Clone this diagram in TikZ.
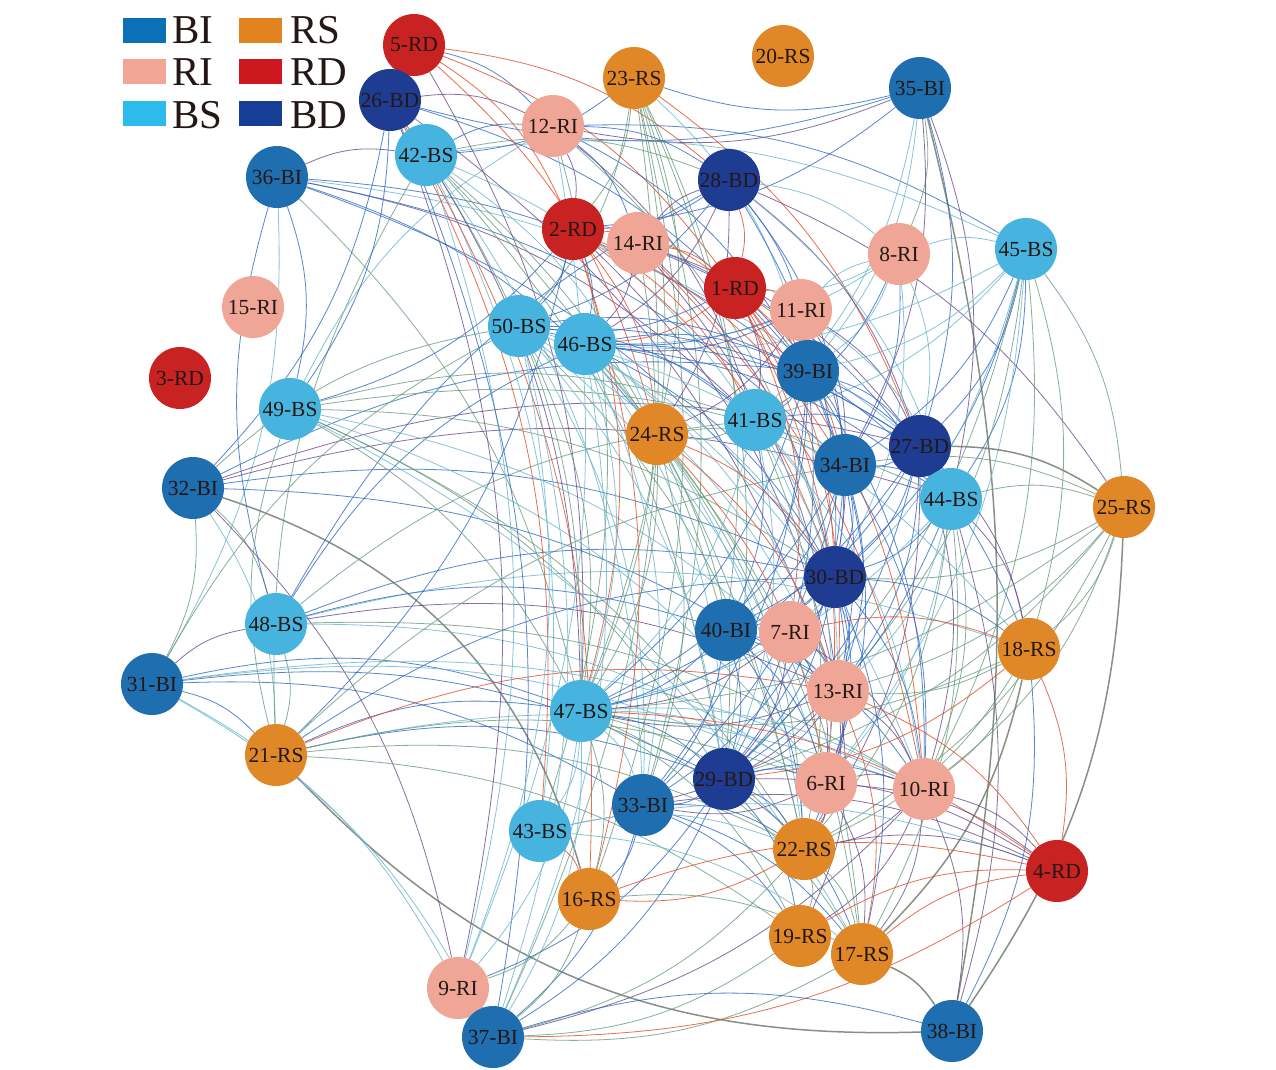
\documentclass[tikz,border=0pt]{standalone}
\usepackage{fontspec}
\setmainfont{Liberation Serif}
\pgfdeclarelayer{background}
\pgfdeclarelayer{paper}
\pgfsetlayers{paper,background,main}
\definecolor{cBI}{RGB}{31,110,176}
\definecolor{cRS}{RGB}{224,136,40}
\definecolor{cRI}{RGB}{240,166,150}
\definecolor{cRD}{RGB}{200,34,34}
\definecolor{cBS}{RGB}{70,180,222}
\definecolor{cBD}{RGB}{30,60,145}
\definecolor{lBI}{RGB}{12,112,182}
\definecolor{lRS}{RGB}{225,132,32}
\definecolor{lRI}{RGB}{242,166,150}
\definecolor{lRD}{RGB}{205,24,32}
\definecolor{lBS}{RGB}{45,187,235}
\definecolor{lBD}{RGB}{22,62,150}
\definecolor{eB}{RGB}{45,105,195}
\definecolor{eT}{RGB}{115,185,210}
\definecolor{eG}{RGB}{105,155,125}
\definecolor{eP}{RGB}{105,75,140}
\definecolor{eR}{RGB}{228,85,50}
\definecolor{eK}{RGB}{115,125,112}
\definecolor{txt}{RGB}{35,24,21}
\tikzset{
  nd/.style={circle, minimum size=62pt, inner sep=0pt, text=txt, font=\fontsize{21.5}{21.5}\selectfont},
  nBI/.style={nd, fill=cBI}, nRS/.style={nd, fill=cRS}, nRI/.style={nd, fill=cRI},
  nRD/.style={nd, fill=cRD}, nBS/.style={nd, fill=cBS}, nBD/.style={nd, fill=cBD},
  lnB/.style={draw=eB, line width=0.8pt, opacity=0.8},
  lnT/.style={draw=eT, line width=0.8pt, opacity=0.85},
  lnG/.style={draw=eG, line width=0.8pt, opacity=0.8},
  lnP/.style={draw=eP, line width=0.8pt, opacity=0.8},
  lnR/.style={draw=eR, line width=0.8pt, opacity=0.85},
  lnK/.style={draw=eK, line width=1.5pt, opacity=0.85},
  swatch/.style={inner sep=0pt, minimum width=43pt, minimum height=25pt},
  legtxt/.style={anchor=base west, inner sep=0pt, text=txt, font=\fontsize{41}{41}\selectfont}
}
\begin{document}
\begin{tikzpicture}[x=1pt, y=-1pt]
\useasboundingbox (0,0) rectangle (1276,1069);
\begin{pgfonlayer}{paper}
\fill[white] (0,0) rectangle (1276,1069);
\end{pgfonlayer}
% legend
\node[swatch, fill=lBI] (sBI) at (144.5,30) {};
\node[legtxt] (tBI) at (172,43) {BI};
\node[swatch, fill=lRS] (sRS) at (260,30) {};
\node[legtxt] (tRS) at (290,43) {RS};
\node[swatch, fill=lRI] (sRI) at (144.5,71) {};
\node[legtxt] (tRI) at (172,85) {RI};
\node[swatch, fill=lRD] (sRD) at (260,71) {};
\node[legtxt] (tRD) at (290,85) {RD};
\node[swatch, fill=lBS] (sBS) at (144.5,113) {};
\node[legtxt] (tBS) at (172,128) {BS};
\node[swatch, fill=lBD] (sBD) at (260,113) {};
\node[legtxt] (tBD) at (290,128) {BD};
% nodes
\foreach \i/\x/\y/\t in {1/735/288/RD, 2/573/229/RD, 3/180/378/RD, 4/1057/871/RD, 5/414/45/RD,
  6/826/783/RI, 7/790/632/RI, 8/899/254/RI, 10/924/789/RI, 11/801/310/RI,
  12/553/126/RI, 13/838/691/RI, 14/638/243/RI, 15/253/307/RI, 16/589/899/RS, 19/800/936/RS,
  17/862/954/RS, 18/1029/649/RS, 20/783/56/RS, 21/276/755/RS, 22/804/849/RS, 23/634/78/RS,
  24/657/434/RS, 25/1124/507/RS, 26/390/100/BD, 27/920/446/BD, 28/729/180/BD, 29/724/779/BD,
  30/835/577/BD, 31/152/684/BI, 32/193/488/BI, 33/643/805/BI, 34/845/465/BI, 35/920/88/BI,
  36/277/177/BI, 9/458/988/RI, 37/493/1037/BI, 38/952/1031/BI, 39/808/371/BI, 40/726/630/BI,
  41/755/420/BS, 42/426/155/BS, 43/540/831/BS, 44/951/499/BS, 45/1026/249/BS, 46/585/344/BS,
  47/581/711/BS, 48/276/624/BS, 49/290/409/BS, 50/519/326/BS}
  \node[n\t] (n\i) at (\x,\y) {\i-\t};
% edges
\begin{pgfonlayer}{background}
\draw[lnK] (n21) to[bend right=24] (n38);
\draw[lnK] (n32) to[bend left=28] (n16);
\draw[lnK] (n35) to[bend left=12] (n38);
\foreach \a/\b/\s in {
 36/42/P, 36/49/B, 36/30/B, 36/39/B, 36/41/P, 36/47/G, 36/24/B, 36/27/T, 36/34/B, 36/31/T,
 32/31/G, 32/48/G, 32/30/B, 32/27/P, 32/44/P, 32/13/B, 32/21/T, 32/50/G, 32/9/P, 32/39/B,
 31/48/P, 31/21/B, 31/47/B, 31/29/B, 31/6/T, 31/37/T, 31/50/G, 31/10/T, 31/33/B, 31/9/T,
 48/30/B, 48/13/P, 48/18/T, 48/40/B, 48/41/G, 48/46/B, 48/21/G, 48/6/T, 48/10/G, 48/36/B, 48/28/B,
 21/47/B, 21/29/B, 21/13/R, 21/10/T, 21/22/G, 21/6/G, 21/49/G, 21/34/G, 21/30/B, 21/19/G, 21/42/G,
 49/30/G, 49/13/T, 49/6/T, 49/29/G, 49/41/G, 49/47/G, 49/44/G, 49/17/T, 49/22/G, 49/12/T,
 42/45/T, 42/12/B, 42/28/G, 42/47/G, 42/33/T, 42/9/T, 42/40/G, 42/41/T, 42/29/G, 42/24/T, 42/22/G, 42/43/T,
 26/12/P, 26/9/P, 26/16/R, 26/43/R, 26/39/B, 35/26/B, 26/47/P, 26/37/B, 26/13/P, 26/49/B, 26/32/B,
 5/28/R, 5/12/B, 5/2/R, 5/47/P, 5/1/R, 5/24/R,
 35/12/P, 12/28/B, 12/45/B, 12/2/P, 12/41/P, 12/39/B, 12/9/T, 12/43/G, 12/30/G, 12/14/B,
 23/27/R, 23/2/G, 23/50/G, 23/47/G, 23/39/T, 23/42/B, 35/23/B, 23/33/G, 23/40/G, 23/16/G, 23/29/G, 23/37/G, 23/24/G,
 35/8/G, 35/34/P, 35/39/T, 35/27/B, 35/2/B, 35/44/P, 35/41/T,
 28/2/B, 28/50/B, 28/39/B, 28/27/P, 28/1/R, 28/44/T, 28/30/B, 28/46/P, 28/24/P, 28/34/B, 28/8/T, 28/25/P,
 2/14/R, 2/1/R, 2/30/R, 2/47/R, 2/41/R, 2/24/R, 2/46/B, 2/34/R, 2/13/P, 2/16/R, 2/21/B, 2/49/B, 2/50/B,
 14/1/R, 14/28/P, 14/39/P, 14/30/P, 14/13/P, 14/47/G, 14/46/P, 14/44/B, 14/27/P, 14/10/R,
 8/45/T, 8/39/T, 8/34/B, 8/27/T, 8/30/T, 8/46/T, 8/41/B, 8/1/T,
 45/30/B, 45/34/B, 45/27/B, 45/44/B, 45/18/G, 45/25/G, 45/41/T, 45/13/G, 45/6/T, 45/10/G, 45/39/T, 45/46/T, 45/29/G, 45/7/T,
 1/39/R, 1/30/R, 1/34/R, 1/6/R, 1/13/R, 1/41/P, 1/50/B, 1/46/R, 1/10/R, 1/11/R, 1/7/R,
 11/39/P, 11/34/P, 11/27/P, 11/30/P, 11/50/B, 11/46/P, 11/8/T, 11/44/T, 11/24/P,
 50/47/G, 50/39/B, 50/29/T, 50/30/T, 50/13/T, 50/6/T, 50/9/T, 50/37/T, 50/41/B, 50/22/G, 50/33/T, 50/18/T, 50/27/B,
 46/39/B, 46/41/B, 46/30/B, 46/27/B, 46/47/T, 46/29/T, 46/33/T, 46/13/T, 46/10/T, 46/22/T, 46/37/T, 46/17/G, 46/44/B,
 39/27/B, 39/34/B, 39/30/B, 39/44/B, 39/41/B, 39/13/B, 39/29/B, 39/47/B, 39/18/B, 39/10/B, 39/33/B, 39/40/B,
 41/30/T, 41/34/T, 41/27/B, 41/29/T, 41/47/T, 41/13/T, 41/6/T, 41/10/T, 41/40/B, 41/22/G, 41/24/G,
 24/30/R, 24/13/R, 24/29/G, 24/47/G, 24/22/G, 24/6/R, 24/34/G, 24/17/G, 24/33/G,
 27/25/K, 27/30/B, 27/44/B, 27/34/B, 27/29/B, 27/47/B, 27/13/B, 27/18/P, 27/40/B, 27/10/P, 27/22/P,
 34/30/B, 34/44/B, 34/29/B, 34/47/B, 34/13/B, 34/40/B, 34/6/B, 34/10/B, 34/33/B, 34/25/G,
 44/25/G, 44/18/P, 44/30/B, 44/29/B, 44/13/T, 44/6/T, 44/10/G, 44/17/G, 44/22/G, 44/47/T, 44/38/P,
 25/18/G, 25/38/K, 25/30/G, 25/13/G, 25/22/G, 25/47/G, 25/10/G, 25/29/G,
 30/40/B, 30/7/B, 30/13/B, 30/29/B, 30/47/B, 30/6/B, 30/10/B, 30/18/B, 30/33/B, 30/22/B, 30/17/B,
 40/47/B, 40/29/B, 40/13/B, 40/10/B, 40/6/B, 40/22/B, 40/33/B,
 7/13/P, 7/18/R, 7/6/P, 7/29/P, 7/47/P, 7/10/P,
 18/4/R, 18/10/G, 18/13/G, 18/47/G, 18/29/R, 18/22/G, 18/17/K, 18/38/B,
 13/6/P, 13/10/P, 13/29/P, 13/47/P, 13/22/P, 13/17/R, 13/4/R, 13/33/P, 13/19/P,
 47/29/B, 47/33/T, 47/6/T, 47/10/T, 47/22/G, 47/37/T, 47/9/T, 47/16/G, 47/17/G, 47/19/G, 47/4/R, 47/43/T,
 29/33/B, 29/6/B, 29/10/B, 29/22/B, 29/37/B, 29/17/B, 29/19/B, 29/4/P, 29/9/B,
 6/10/P, 6/4/P, 6/17/P, 6/22/P, 6/33/P,
 10/4/P, 10/17/P, 10/22/P, 10/19/P, 10/38/P, 10/37/P,
 33/22/B, 33/16/B, 33/37/B, 33/4/P, 33/17/B, 33/19/B,
 43/16/R, 43/22/T, 43/17/T, 43/4/T,
 22/4/P, 22/17/G, 22/16/R, 22/37/G, 22/19/G,
 16/4/R, 16/37/G, 16/17/G, 16/9/G,
 19/37/G, 19/4/R, 17/38/K, 17/4/R, 17/37/G, 9/37/P, 4/37/R, 37/38/B}
 \draw[ln\s] (n\a) to[bend left=16] (n\b);
\end{pgfonlayer}
\end{tikzpicture}
\end{document}
